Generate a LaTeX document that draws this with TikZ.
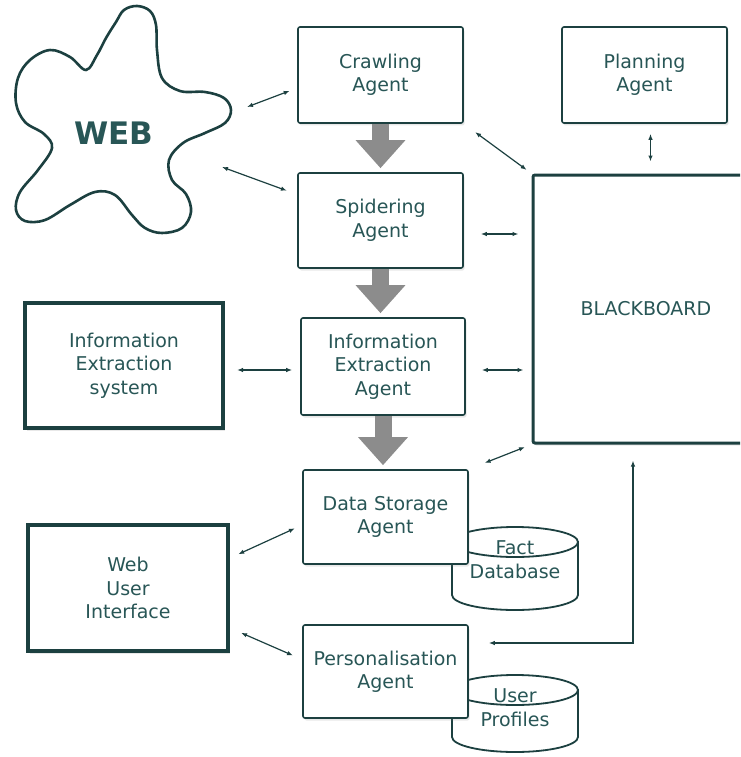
\documentclass[tikz,border=0pt]{standalone}
\usepackage{fontspec}
\setmainfont{DejaVu Sans}
\usetikzlibrary{arrows.meta,shadows}

\definecolor{ink}{RGB}{28,64,64}
\definecolor{inktext}{RGB}{40,86,86}
\definecolor{pipe}{RGB}{140,140,140}

\tikzset{
    agentbox/.style={draw=ink, line width=1.6pt, rounded corners=2pt, fill=white,
        text=inktext, align=center, font=\fontsize{19}{23.5}\selectfont, inner sep=2pt,
        drop shadow={opacity=0.18, shadow xshift=1.5pt, shadow yshift=-2.5pt}},
    sysbox/.style={agentbox, line width=4pt, sharp corners},
    dbline/.style={draw=ink, line width=1.8pt, fill=white},
    dbtext/.style={text=inktext, align=center, font=\fontsize{19}{24}\selectfont, inner sep=0pt},
    link/.style={ink, line width=1.2pt, {Latex[length=6pt,width=4.5pt]}-{Latex[length=6pt,width=4.5pt]}},
    flow/.style={pipe, line width=17pt, -{Triangle[length=28pt,width=48pt]}, shorten >=4pt},
}

% a database drum: centre x, top y, bottom y
\newcommand{\dbcan}[3]{%
    \filldraw[dbline] (#1-63,#2+15) -- (#1-63,#3-15)
        arc[start angle=180, end angle=0, x radius=63, y radius=15] -- (#1+63,#2+15) -- cycle;
    \filldraw[dbline] (#1,#2+15) ellipse[x radius=63, y radius=15];
}

\begin{document}
        \begin{tikzpicture}[x=1pt,y=-1pt]
            \clip (0,0) rectangle (740,757);

            % the web, drawn as a blob
            \draw[ink, line width=2.6pt, fill=white] plot[smooth cycle, tension=0.6] coordinates {
                (124,10) (137,6) (150,11) (156,25) (157,50) (162,78)
                (180,91) (205,92) (224,98) (231,110) (225,123) (205,133) (183,143) (169,160)
                (172,180) (186,194) (191,212) (182,228) (162,233) (145,228) (132,215) (115,195)
                (95,192) (70,205) (45,220) (25,221) (16,210) (20,192) (38,170) (52,148)
                (44,134) (25,122) (16,103) (18,78) (30,60) (50,50) (70,57) (86,70)
                (97,55) (106,38) (116,22)};
            \node[text=inktext, font=\bfseries\fontsize{31}{31}\selectfont] (web) at (114,133) {WEB};
            \coordinate (webA) at (247,107);
            \coordinate (webB) at (222,167);

            % databases sit behind the agents
            \dbcan{515}{527}{610}
            \node[dbtext] (fact) at (515,560) {Fact\\Database};
            \dbcan{515}{675}{752}
            \node[dbtext] (profiles) at (515,707.5) {User\\Profiles};

            % agents
            \node[agentbox, minimum width=165pt, minimum height=96pt] (crawl) at (380.5,75) {Crawling\\Agent};
            \node[agentbox, minimum width=165pt, minimum height=96pt] (plan) at (644.5,75) {Planning\\Agent};
            \node[agentbox, minimum width=165pt, minimum height=95pt] (spider) at (380.5,220.5) {Spidering\\Agent};
            \node[agentbox, minimum width=164pt, minimum height=97pt] (ieagent) at (383,366.5) {Information\\Extraction\\Agent};
            \node[agentbox, minimum width=165pt, minimum height=94pt] (store) at (385.5,517) {Data Storage\\Agent};
            \node[agentbox, minimum width=165pt, minimum height=93pt] (person) at (385.5,671.5) {Personalisation\\Agent};

            % outside systems and the blackboard
            \node[sysbox, minimum width=198pt, minimum height=125pt] (iesys) at (124,365.5) {Information\\Extraction\\system};
            \node[sysbox, minimum width=200pt, minimum height=126pt] (webui) at (128,588) {Web\\User\\Interface};
            \node[agentbox, line width=3pt, minimum width=226pt, minimum height=268pt] (board) at (646,309) {BLACKBOARD};

            % pipeline
            \draw[flow] (crawl.south) -- (spider.north);
            \draw[flow] (spider.south) -- (spider.south |- ieagent.north);
            \draw[flow] (ieagent.south) -- (ieagent.south |- store.north);

            % messages
            \draw[link, shorten >=8pt] (webA) -- ([yshift=-13pt]crawl.west);
            \draw[link, shorten >=11pt] (webB) -- ([yshift=26pt]spider.west);
            \draw[link, shorten <=14pt, shorten >=6pt] (crawl.south east) -- (board.north west);
            \draw[link, shorten <=10pt, shorten >=12pt] ([xshift=6pt]plan.south) -- ([xshift=6pt]plan.south |- board.north);
            \draw[link, shorten <=17pt, shorten >=13pt] ([yshift=-13.5pt]spider.east) -- ([yshift=-13.5pt]spider.east -| board.west);
            \draw[link, shorten <=16pt, shorten >=8pt] ([yshift=-3.5pt]ieagent.east) -- ([yshift=-3.5pt]ieagent.east -| board.west);
            \draw[link, shorten <=12pt, shorten >=8pt] ([yshift=-4.5pt]iesys.east) -- ([yshift=-4.5pt]iesys.east -| ieagent.west);
            \draw[link, shorten <=17pt, shorten >=7pt] (store.north east) -- (board.south west);
            \draw[link, shorten <=9pt, shorten >=8pt] ([yshift=30pt]webui.east) -- ([yshift=-8pt]store.west);
            \draw[link, shorten <=12pt, shorten >=10pt] ([yshift=-40pt]webui.east) -- ([yshift=12pt]person.west);
            \draw[link, shorten <=16pt, shorten >=20pt] ([xshift=-13pt]board.south) |- ([yshift=28.5pt]person.east);
        \end{tikzpicture}
\end{document}
